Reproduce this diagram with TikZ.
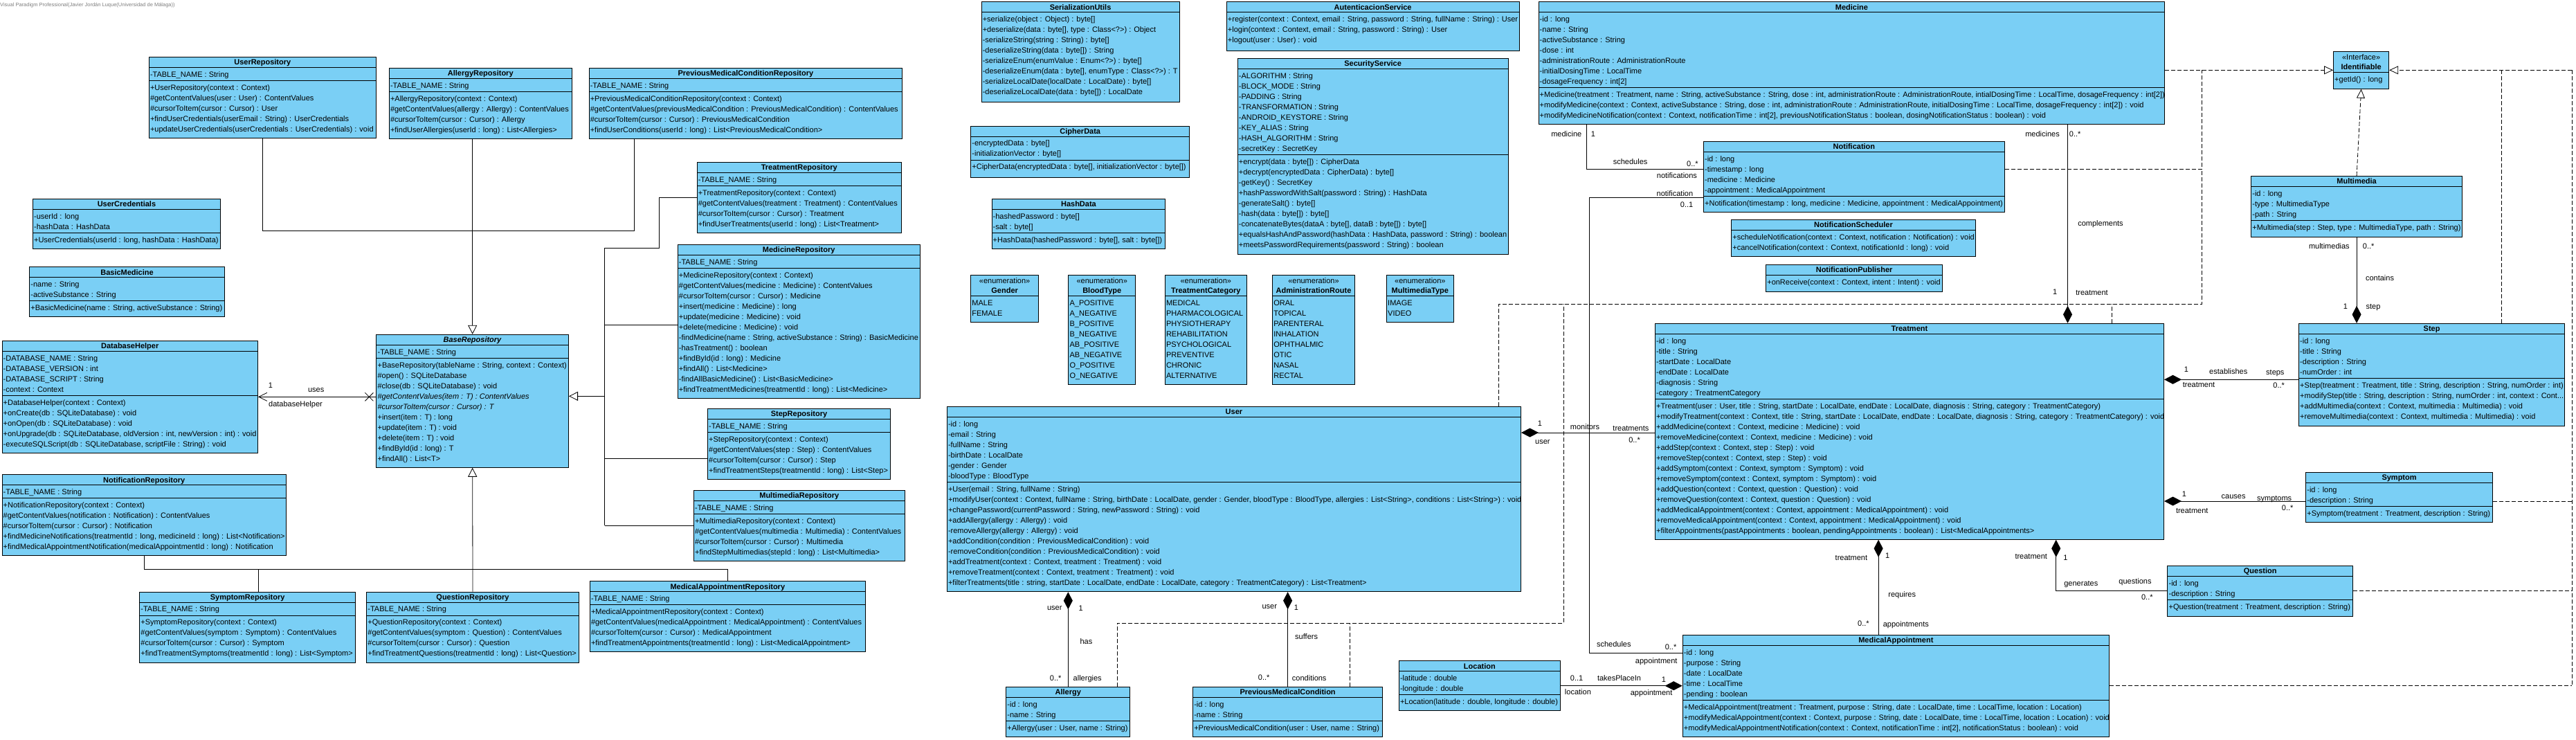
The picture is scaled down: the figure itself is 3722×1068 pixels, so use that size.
\documentclass[tikz,border=0pt]{standalone}
\usepackage{fontspec}
\setmainfont{Liberation Sans}
\usetikzlibrary{arrows.meta,fit}
\definecolor{umlblue}{RGB}{122,207,245}
\tikzset{
  clsbox/.style={draw=black, fill=umlblue, line width=1pt, inner sep=0pt},
  clsline/.style={line width=1pt},
  clstitle/.style={anchor=base, inner sep=0pt, font=\fontsize{11}{15}\selectfont\bfseries},
  clstext/.style={anchor=north west, inner sep=0pt, align=left, font=\fontsize{11}{15}\selectfont},
  lbl/.style={anchor=base, inner sep=0pt, font=\fontsize{11}{15}\selectfont},
  assoc/.style={line width=0.8pt},
  comp/.style={line width=0.8pt, {Diamond[length=25pt,width=13pt]}-},
  gen/.style={line width=0.8pt, -{Triangle[open,length=13pt,width=13pt]}},
  real/.style={line width=0.8pt, dash pattern=on 6pt off 3pt},
  realtri/.style={real, -{Triangle[open,length=13pt,width=12pt]}},
}
\newcommand\ust{\rule{0pt}{10.5pt}}
\newcommand\ubox[7]{%
  \node[clsbox, fit={(#2,#3)(#4,#5)}] (#1) {};
  \draw[clsline] (#2,#6) -- (#4,#6);
  \node[clstitle] (#1-t) at ({(#2+#4)/2},#6-3.5) {#7};}
\newcommand\uster[8]{%
  \node[clsbox, fit={(#2,#3)(#4,#5)}] (#1) {};
  \draw[clsline] (#2,#6) -- (#4,#6);
  \node[lbl] (#1-s) at ({(#2+#4)/2},#3+12) {#7};
  \node[clstitle] (#1-t) at ({(#2+#4)/2},#6-3.5) {#8};}
\newcommand\usep[3]{\draw[clsline] (#1,#3) -- (#2,#3);}
\newcommand\utxt[4]{\node[clstext] (#1) at (#2+1.5,#3+3) {\ust #4};}
\newcommand\ulb[4]{\node[lbl] (#1) at (#2,#3+4) {#4};}
\begin{document}
\begin{tikzpicture}[x=1pt,y=-1pt]
\fill[white] (0,0) rectangle (3722,1068);
\useasboundingbox (0,0) rectangle (3722,1068);
\node[anchor=west, inner sep=0pt, text=gray, font=\fontsize{7.5}{9}\selectfont] (wm) at (0,8) {Visual Paradigm Professional(Javier Jordán Luque(Universidad de Málaga))};

% ---------------- repositories ----------------
\ubox{userrepo}{215.3}{82.3}{543.3}{199.3}{97.3}{UserRepository}
\usep{215.3}{543.3}{116.3}
\utxt{userrepo-a}{215.3}{97.3}{-TABLE\_NAME : String}
\utxt{userrepo-m}{215.3}{116.3}{+UserRepository(context : Context)\\\#getContentValues(user : User) : ContentValues\\\#cursorToItem(cursor : Cursor) : User\\+findUserCredentials(userEmail : String) : UserCredentials\\+updateUserCredentials(userCredentials : UserCredentials) : void}

\ubox{allergyrepo}{562.3}{98.3}{826.2}{200.3}{113.3}{AllergyRepository}
\usep{562.3}{826.2}{132.3}
\utxt{allergyrepo-a}{562.3}{113.3}{-TABLE\_NAME : String}
\utxt{allergyrepo-m}{562.3}{132.3}{+AllergyRepository(context : Context)\\\#getContentValues(allergy : Allergy) : ContentValues\\\#cursorToItem(cursor : Cursor) : Allergy\\+findUserAllergies(userId : long) : List<Allergies>}

\ubox{prevrepo}{851.1}{98.3}{1303.7}{200.3}{113.3}{PreviousMedicalConditionRepository}
\usep{851.1}{1303.7}{132.3}
\utxt{prevrepo-a}{851.1}{113.3}{-TABLE\_NAME : String}
\utxt{prevrepo-m}{851.1}{132.3}{+PreviousMedicalConditionRepository(context : Context)\\\#getContentValues(previousMedicalCondition : PreviousMedicalCondition) : ContentValues\\\#cursorToItem(cursor : Cursor) : PreviousMedicalCondition\\+findUserConditions(userId : long) : List<PreviousMedicalCondition>}

\ubox{treatrepo}{1007.1}{234.3}{1302.5}{336.3}{249.3}{TreatmentRepository}
\usep{1007.1}{1302.5}{268.3}
\utxt{treatrepo-a}{1007.1}{249.3}{-TABLE\_NAME : String}
\utxt{treatrepo-m}{1007.1}{268.3}{+TreatmentRepository(context : Context)\\\#getContentValues(treatment : Treatment) : ContentValues\\\#cursorToItem(cursor : Cursor) : Treatment\\+findUserTreatments(userId : long) : List<Treatment>}

\ubox{medrepo}{979.2}{353.3}{1329.2}{575.3}{368.3}{MedicineRepository}
\usep{979.2}{1329.2}{387.3}
\utxt{medrepo-a}{979.2}{368.3}{-TABLE\_NAME : String}
\utxt{medrepo-m}{979.2}{387.3}{+MedicineRepository(context : Context)\\\#getContentValues(medicine : Medicine) : ContentValues\\\#cursorToItem(cursor : Cursor) : Medicine\\+insert(medicine : Medicine) : long\\+update(medicine : Medicine) : void\\+delete(medicine : Medicine) : void\\-findMedicine(name : String, activeSubstance : String) : BasicMedicine\\-hasTreatment() : boolean\\+findById(id : long) : Medicine\\+findAll() : List<Medicine>\\-findAllBasicMedicine() : List<BasicMedicine>\\+findTreatmentMedicines(treatmentId : long) : List<Medicine>}

\ubox{steprepo}{1022.5}{590.3}{1286.5}{692.3}{605.3}{StepRepository}
\usep{1022.5}{1286.5}{624.3}
\utxt{steprepo-a}{1022.5}{605.3}{-TABLE\_NAME : String}
\utxt{steprepo-m}{1022.5}{624.3}{+StepRepository(context : Context)\\\#getContentValues(step : Step) : ContentValues\\\#cursorToItem(cursor : Cursor) : Step\\+findTreatmentSteps(treatmentId : long) : List<Step>}

\ubox{mmrepo}{1002.4}{708.3}{1307.2}{810.3}{723.3}{MultimediaRepository}
\usep{1002.4}{1307.2}{742.3}
\utxt{mmrepo-a}{1002.4}{723.3}{-TABLE\_NAME : String}
\utxt{mmrepo-m}{1002.4}{742.3}{+MultimediaRepository(context : Context)\\\#getContentValues(multimedia : Multimedia) : ContentValues\\\#cursorToItem(cursor : Cursor) : Multimedia\\+findStepMultimedias(stepId : long) : List<Multimedia>}

\ubox{mapprepo}{852.3}{839.7}{1250.3}{941.7}{854.7}{MedicalAppointmentRepository}
\usep{852.3}{1250.3}{873.7}
\utxt{mapprepo-a}{852.3}{854.7}{-TABLE\_NAME : String}
\utxt{mapprepo-m}{852.3}{873.7}{+MedicalAppointmentRepository(context : Context)\\\#getContentValues(medicalAppointment : MedicalAppointment) : ContentValues\\\#cursorToItem(cursor : Cursor) : MedicalAppointment\\+findTreatmentAppointments(treatmentId : long) : List<MedicalAppointment>}

\ubox{symrepo}{201.7}{855}{513.6}{957}{870}{SymptomRepository}
\usep{201.7}{513.6}{889}
\utxt{symrepo-a}{201.7}{870}{-TABLE\_NAME : String}
\utxt{symrepo-m}{201.7}{889}{+SymptomRepository(context : Context)\\\#getContentValues(symptom : Symptom) : ContentValues\\\#cursorToItem(cursor : Cursor) : Symptom\\+findTreatmentSymptoms(treatmentId : long) : List<Symptom>}

\ubox{qrepo}{529.7}{855}{836.3}{957}{870}{QuestionRepository}
\usep{529.7}{836.3}{889}
\utxt{qrepo-a}{529.7}{870}{-TABLE\_NAME : String}
\utxt{qrepo-m}{529.7}{889}{+QuestionRepository(context : Context)\\\#getContentValues(symptom : Question) : ContentValues\\\#cursorToItem(cursor : Cursor) : Question\\+findTreatmentQuestions(treatmentId : long) : List<Question>}

\ubox{notifrepo}{3}{685.7}{413.4}{802.7}{700.7}{NotificationRepository}
\usep{3}{413.4}{719.7}
\utxt{notifrepo-a}{3}{700.7}{-TABLE\_NAME : String}
\utxt{notifrepo-m}{3}{719.7}{+NotificationRepository(context : Context)\\\#getContentValues(notification : Notification) : ContentValues\\\#cursorToItem(cursor : Cursor) : Notification\\+findMedicineNotifications(treatmentId : long, medicineId : long) : List<Notification>\\+findMedicalAppointmentNotification(medicalAppointmentId : long) : Notification}

\ubox{baserepo}{543.9}{483.3}{821.5}{675.3}{498.3}{\textit{BaseRepository}}
\usep{543.9}{821.5}{517.3}
\utxt{baserepo-a}{543.9}{498.3}{-TABLE\_NAME : String}
\utxt{baserepo-m}{543.9}{517.3}{+BaseRepository(tableName : String, context : Context)\\\#open() : SQLiteDatabase\\\#close(db : SQLiteDatabase) : void\\\textit{\#getContentValues(item : T) : ContentValues}\\\textit{\#cursorToItem(cursor : Cursor) : T}\\+insert(item : T) : long\\+update(item : T) : void\\+delete(item : T) : void\\+findById(id : long) : T\\+findAll() : List<T>}

\ubox{dbhelper}{3}{492.3}{372.5}{654.3}{507.3}{DatabaseHelper}
\usep{3}{372.5}{571.3}
\utxt{dbhelper-a}{3}{507.3}{-DATABASE\_NAME : String\\-DATABASE\_VERSION : int\\-DATABASE\_SCRIPT : String\\-context : Context}
\utxt{dbhelper-m}{3}{571.3}{+DatabaseHelper(context : Context)\\+onCreate(db : SQLiteDatabase) : void\\+onOpen(db : SQLiteDatabase) : void\\+onUpgrade(db : SQLiteDatabase, oldVersion : int, newVersion : int) : void\\-executeSQLScript(db : SQLiteDatabase, scriptFile : String) : void}

\ubox{usercred}{47.4}{287.3}{318.5}{359.3}{302.3}{UserCredentials}
\usep{47.4}{318.5}{336.3}
\utxt{usercred-a}{47.4}{302.3}{-userId : long\\-hashData : HashData}
\utxt{usercred-m}{47.4}{336.3}{+UserCredentials(userId : long, hashData : HashData)}

\ubox{basicmed}{42.7}{385.7}{324.4}{457.7}{400.7}{BasicMedicine}
\usep{42.7}{324.4}{434.7}
\utxt{basicmed-a}{42.7}{400.7}{-name : String\\-activeSubstance : String}
\utxt{basicmed-m}{42.7}{434.7}{+BasicMedicine(name : String, activeSubstance : String)}

% ---------------- utilities / services ----------------
\ubox{serial}{1418.1}{2.7}{1704}{147}{17.7}{SerializationUtils}
\utxt{serial-m}{1418.1}{17.7}{+serialize(object : Object) : byte[]\\+deserialize(data : byte[], type : Class<?>) : Object\\-serializeString(string : String) : byte[]\\-deserializeString(data : byte[]) : String\\-serializeEnum(enumValue : Enum<?>) : byte[]\\-deserializeEnum(data : byte[], enumType : Class<?>) : T\\-serializeLocalDate(localDate : LocalDate) : byte[]\\-deserializeLocalDate(data : byte[]) : LocalDate}

\ubox{cipher}{1402.7}{182}{1718.8}{256}{197}{CipherData}
\usep{1402.7}{1718.8}{231}
\utxt{cipher-a}{1402.7}{197}{-encryptedData : byte[]\\-initializationVector : byte[]}
\utxt{cipher-m}{1402.7}{231}{+CipherData(encryptedData : byte[], initializationVector : byte[])}

\ubox{hashdata}{1433}{287.3}{1683.9}{359.3}{302.3}{HashData}
\usep{1433}{1683.9}{336.3}
\utxt{hashdata-a}{1433}{302.3}{-hashedPassword : byte[]\\-salt : byte[]}
\utxt{hashdata-m}{1433}{336.3}{+HashData(hashedPassword : byte[], salt : byte[])}

\ubox{auth}{1772.2}{2.7}{2195.1}{73.3}{17.7}{AutenticacionService}
\utxt{auth-m}{1772.2}{17.7}{+register(context : Context, email : String, password : String, fullName : String) : User\\+login(context : Context, email : String, password : String) : User\\+logout(user : User) : void}

\ubox{security}{1788.2}{84.3}{2179.1}{367.7}{99.3}{SecurityService}
\usep{1788.2}{2179.1}{223.3}
\utxt{security-a}{1788.2}{99.3}{-ALGORITHM : String\\-BLOCK\_MODE : String\\-PADDING : String\\-TRANSFORMATION : String\\-ANDROID\_KEYSTORE : String\\-KEY\_ALIAS : String\\-HASH\_ALGORITHM : String\\-secretKey : SecretKey}
\utxt{security-m}{1788.2}{223.3}{+encrypt(data : byte[]) : CipherData\\+decrypt(encryptedData : CipherData) : byte[]\\-getKey() : SecretKey\\+hashPasswordWithSalt(password : String) : HashData\\-generateSalt() : byte[]\\-hash(data : byte[]) : byte[]\\-concatenateBytes(dataA : byte[], dataB : byte[]) : byte[]\\+equalsHashAndPassword(hashData : HashData, password : String) : boolean\\+meetsPasswordRequirements(password : String) : boolean}

% ---------------- enumerations ----------------
\uster{gender}{1402.7}{397.3}{1500.6}{465.3}{427.3}{<<enumeration>>}{Gender}
\utxt{gender-a}{1402.7}{427.3}{MALE\\FEMALE}
\uster{blood}{1543.9}{397.3}{1640.6}{555.3}{427.3}{<<enumeration>>}{BloodType}
\utxt{blood-a}{1543.9}{427.3}{A\_POSITIVE\\A\_NEGATIVE\\B\_POSITIVE\\B\_NEGATIVE\\AB\_POSITIVE\\AB\_NEGATIVE\\O\_POSITIVE\\O\_NEGATIVE}
\uster{tcat}{1683.3}{397.3}{1801.3}{555.3}{427.3}{<<enumeration>>}{TreatmentCategory}
\utxt{tcat-a}{1683.3}{427.3}{MEDICAL\\PHARMACOLOGICAL\\PHYSIOTHERAPY\\REHABILITATION\\PSYCHOLOGICAL\\PREVENTIVE\\CHRONIC\\ALTERNATIVE}
\uster{aroute}{1838.6}{397.3}{1957.3}{555.3}{427.3}{<<enumeration>>}{AdministrationRoute}
\utxt{aroute-a}{1838.6}{427.3}{ORAL\\TOPICAL\\PARENTERAL\\INHALATION\\OPHTHALMIC\\OTIC\\NASAL\\RECTAL}
\uster{mmtype}{2003.5}{397.3}{2100.2}{465.3}{427.3}{<<enumeration>>}{MultimediaType}
\utxt{mmtype-a}{2003.5}{427.3}{IMAGE\\VIDEO}

% ---------------- domain ----------------
\ubox{medicine}{2223}{2.7}{3127.7}{179.7}{17.7}{Medicine}
\usep{2223}{3127.7}{126.7}
\utxt{medicine-a}{2223}{17.7}{-id : long\\-name : String\\-activeSubstance : String\\-dose : int\\-administrationRoute : AdministrationRoute\\-initialDosingTime : LocalTime\\-dosageFrequency : int[2]}
\utxt{medicine-m}{2223}{126.7}{+Medicine(treatment : Treatment, name : String, activeSubstance : String, dose : int, administrationRoute : AdministrationRoute, intialDosingTime : LocalTime, dosageFrequency : int[2])\\+modifyMedicine(context : Context, activeSubstance : String, dose : int, administrationRoute : AdministrationRoute, initialDosingTime : LocalTime, dosageFrequency : int[2]) : void\\+modifyMedicineNotification(context : Context, notificationTime : int[2], previousNotificationStatus : boolean, dosingNotificationStatus : boolean) : void}

\ubox{notification}{2461.4}{204.3}{2896.4}{306.3}{219.3}{Notification}
\usep{2461.4}{2896.4}{283.3}
\utxt{notification-a}{2461.4}{219.3}{-id : long\\-timestamp : long\\-medicine : Medicine\\-appointment : MedicalAppointment}
\utxt{notification-m}{2461.4}{283.3}{+Notification(timestamp : long, medicine : Medicine, appointment : MedicalAppointment)}

\ubox{nsched}{2501.7}{317.3}{2854.2}{370.3}{332.3}{NotificationScheduler}
\utxt{nsched-m}{2501.7}{332.3}{+scheduleNotification(context : Context, notification : Notification) : void\\+cancelNotification(context : Context, notificationId : long) : void}

\ubox{npub}{2551.6}{382.3}{2806.6}{421.3}{397.3}{NotificationPublisher}
\utxt{npub-m}{2551.6}{397.3}{+onReceive(context : Context, intent : Intent) : void}

\uster{identifiable}{3371.5}{74.3}{3451.7}{128.3}{104.3}{<<Interface>>}{Identifiable}
\utxt{identifiable-m}{3371.5}{104.3}{+getId() : long}

\ubox{multimedia}{3252.6}{254.3}{3557.5}{342.3}{269.3}{Multimedia}
\usep{3252.6}{3557.5}{318.3}
\utxt{multimedia-a}{3252.6}{269.3}{-id : long\\-type : MultimediaType\\-path : String}
\utxt{multimedia-m}{3252.6}{318.3}{+Multimedia(step : Step, type : MultimediaType, path : String)}

\ubox{step}{3321.5}{467.3}{3705.6}{615.3}{482.3}{Step}
\usep{3321.5}{3705.6}{546.3}
\utxt{step-a}{3321.5}{482.3}{-id : long\\-title : String\\-description : String\\-numOrder : int}
\utxt{step-m}{3321.5}{546.3}{+Step(treatment : Treatment, title : String, description : String, numOrder : int)\\+modifyStep(title : String, description : String, numOrder : int, context : Cont...\\+addMultimedia(context : Context, multimedia : Multimedia) : void\\+removeMultimedia(context : Context, multimedia : Multimedia) : void}

\ubox{symptom}{3331.6}{682.3}{3601.5}{754.3}{697.3}{Symptom}
\usep{3331.6}{3601.5}{731.3}
\utxt{symptom-a}{3331.6}{697.3}{-id : long\\-description : String}
\utxt{symptom-m}{3331.6}{731.3}{+Symptom(treatment : Treatment, description : String)}

\ubox{question}{3131.9}{817.3}{3399.4}{890.3}{832.3}{Question}
\usep{3131.9}{3399.4}{866.3}
\utxt{question-a}{3131.9}{832.3}{-id : long\\-description : String}
\utxt{question-m}{3131.9}{866.3}{+Question(treatment : Treatment, description : String)}

\ubox{mappt}{2431.2}{917.3}{3047.5}{1064.3}{932.3}{MedicalAppointment}
\usep{2431.2}{3047.5}{1011.3}
\utxt{mappt-a}{2431.2}{932.3}{-id : long\\-purpose : String\\-date : LocalDate\\-time : LocalTime\\-pending : boolean}
\utxt{mappt-m}{2431.2}{1011.3}{+MedicalAppointment(treatment : Treatment, purpose : String, date : LocalDate, time : LocalTime, location : Location)\\+modifyMedicalAppointment(context : Context, purpose : String, date : LocalDate, time : LocalTime, location : Location) : void\\+modifyMedicalAppointmentNotification(context : Context, notificationTime : int[2], notificationStatus : boolean) : void}

\ubox{location}{2021.3}{954.7}{2254.4}{1026.7}{969.7}{Location}
\usep{2021.3}{2254.4}{1003.7}
\utxt{location-a}{2021.3}{969.7}{-latitude : double\\-longitude : double}
\utxt{location-m}{2021.3}{1003.7}{+Location(latitude : double, longitude : double)}

\ubox{allergy}{1453.7}{992.3}{1632.9}{1064.3}{1007.3}{Allergy}
\usep{1453.7}{1632.9}{1041.3}
\utxt{allergy-a}{1453.7}{1007.3}{-id : long\\-name : String}
\utxt{allergy-m}{1453.7}{1041.3}{+Allergy(user : User, name : String)}

\ubox{prevcond}{1723.6}{992.3}{1997.6}{1064.3}{1007.3}{PreviousMedicalCondition}
\usep{1723.6}{1997.6}{1041.3}
\utxt{prevcond-a}{1723.6}{1007.3}{-id : long\\-name : String}
\utxt{prevcond-m}{1723.6}{1041.3}{+PreviousMedicalCondition(user : User, name : String)}

\ubox{user}{1368.3}{587.3}{2197.5}{854.7}{602.3}{User}
\usep{1368.3}{2197.5}{696.7}
\utxt{user-a}{1368.3}{602.3}{-id : long\\-email : String\\-fullName : String\\-birthDate : LocalDate\\-gender : Gender\\-bloodType : BloodType}
\utxt{user-m}{1368.3}{696.7}{+User(email : String, fullName : String)\\+modifyUser(context : Context, fullName : String, birthDate : LocalDate, gender : Gender, bloodType : BloodType, allergies : List<String>, conditions : List<String>) : void\\+changePassword(currentPassword : String, newPassword : String) : void\\+addAllergy(allergy : Allergy) : void\\-removeAllergy(allergy : Allergy) : void\\+addCondition(condition : PreviousMedicalCondition) : void\\-removeCondition(condition : PreviousMedicalCondition) : void\\+addTreatment(context : Context, treatment : Treatment) : void\\+removeTreatment(context : Context, treatment : Treatment) : void\\+filterTreatments(title : string, startDate : LocalDate, endDate : LocalDate, category : TreatmentCategory) : List<Treatment>}

\ubox{treatment}{2391.4}{467.3}{3126.5}{779.3}{482.3}{Treatment}
\usep{2391.4}{3126.5}{576.3}
\utxt{treatment-a}{2391.4}{482.3}{-id : long\\-title : String\\-startDate : LocalDate\\-endDate : LocalDate\\-diagnosis : String\\-category : TreatmentCategory}
\utxt{treatment-m}{2391.4}{576.3}{+Treatment(user : User, title : String, startDate : LocalDate, endDate : LocalDate, diagnosis : String, category : TreatmentCategory)\\+modifyTreatment(context : Context, title : String, startDate : LocalDate, endDate : LocalDate, diagnosis : String, category : TreatmentCategory) : void\\+addMedicine(context : Context, medicine : Medicine) : void\\+removeMedicine(context : Context, medicine : Medicine) : void\\+addStep(context : Context, step : Step) : void\\+removeStep(context : Context, step : Step) : void\\+addSymptom(context : Context, symptom : Symptom) : void\\+removeSymptom(context : Context, symptom : Symptom) : void\\+addQuestion(context : Context, question : Question) : void\\+removeQuestion(context : Context, question : Question) : void\\+addMedicalAppointment(context : Context, appointment : MedicalAppointment) : void\\+removeMedicalAppointment(context : Context, appointment : MedicalAppointment) : void\\+filterAppointments(pastAppointments : boolean, pendingAppointments : boolean) : List<MedicalAppointments>}

% ---------------- generalizations of repositories ----------------
\coordinate (jt) at (682.7,333);
\draw[gen] (allergyrepo.south -| baserepo.north) -- (baserepo.north);
\draw[assoc] (userrepo.south) |- (jt);
\draw[assoc] (916.4,0 |- prevrepo.south) |- (jt);

\coordinate (jr) at (873.7,572.3);
\draw[gen] (jr) -- (baserepo.east |- jr);
\draw[assoc] (873.7,358.3) -- (873.7,0 |- mmrepo.west);
\draw[assoc] (873.7,358.3) -- (952,358.3) -- (952,0 |- treatrepo.west) -- (treatrepo.west);
\draw[assoc] (873.7,469.3) -- (medrepo.west |- 0,469.3);
\draw[assoc] (873.7,662) -- (steprepo.west |- 0,662);
\draw[assoc] (873.7,0 |- mmrepo.west) -- (mmrepo.west);

\draw[gen] (qrepo.north) -- (baserepo.south);
\draw[assoc] (notifrepo.south) |- (mapprepo.north |- 0,822.3) -- (mapprepo.north);
\draw[assoc] (373.7,0 |- symrepo.north) -- (373.7,822.3);

% uses
\coordinate (ux) at (baserepo.west |- dbhelper.east);
\draw[assoc, -{Straight Barb[length=12pt,width=12pt]}] (ux) -- (dbhelper.east);
\draw[assoc] ([shift={(-16,-6)}]ux) -- ([shift={(-4,6)}]ux);
\draw[assoc] ([shift={(-16,6)}]ux) -- ([shift={(-4,-6)}]ux);
\ulb{l-db1}{390.9}{556}{1}
\ulb{l-db2}{456.7}{562.3}{uses}
\ulb{l-db3}{427}{583.7}{databaseHelper}

% ---------------- associations ----------------
\draw[assoc] (2292.4,0 |- medicine.south) |- (notification.west |- 0,244.3);
\ulb{l-mn1}{2263.3}{193.7}{medicine}
\ulb{l-mn2}{2301.9}{193.3}{1}
\ulb{l-mn3}{2355.6}{233.3}{schedules}
\ulb{l-mn4}{2445.4}{236.7}{0..*}
\ulb{l-mn5}{2422.9}{253.3}{notifications}

\draw[assoc] (notification.west |- 0,285) -| (2296,943) -- (mappt.west |- 0,943);
\ulb{l-na1}{2419.9}{279.3}{notification}
\ulb{l-na2}{2437.1}{295}{0..1}
\ulb{l-na3}{2331.8}{930.3}{schedules}
\ulb{l-na4}{2414}{934.7}{0..*}
\ulb{l-na5}{2393.2}{954.7}{appointment}

\draw[comp] (2987.5,0 |- treatment.north) -- (2987.5,0 |- medicine.south);
\ulb{l-mt1}{2951}{193.3}{medicines}
\ulb{l-mt2}{2998.2}{193.3}{0..*}
\ulb{l-mt3}{3035}{322.3}{complements}
\ulb{l-mt4}{2969.1}{421.7}{1}
\ulb{l-mt5}{3022.5}{422.3}{treatment}

\draw[comp] (user.east |- 0,625) -- (treatment.west |- 0,625);
\ulb{l-ut1}{2224.8}{611}{1}
\ulb{l-ut2}{2228.9}{637.7}{user}
\ulb{l-ut3}{2290}{616.7}{monitors}
\ulb{l-ut4}{2356.4}{618.3}{treatments}
\ulb{l-ut5}{2361.5}{635}{0..*}

\draw[comp] (user.south -| allergy.north) -- (allergy.north);
\ulb{l-ua1}{1523.7}{877.3}{user}
\ulb{l-ua2}{1561.7}{878}{1}
\ulb{l-ua3}{1569.4}{926.3}{has}
\ulb{l-ua4}{1525.2}{979}{0..*}
\ulb{l-ua5}{1571.2}{979.7}{allergies}

\draw[comp] (user.south -| prevcond.north) -- (prevcond.north);
\ulb{l-uc1}{1834.2}{875.7}{user}
\ulb{l-uc2}{1873}{877.3}{1}
\ulb{l-uc3}{1887.6}{919.7}{suffers}
\ulb{l-uc4}{1826.2}{978}{0..*}
\ulb{l-uc5}{1891.7}{979.7}{conditions}

\draw[comp] (2714.1,0 |- treatment.south) -- (2714.1,0 |- mappt.north);
\ulb{l-tm1}{2674.9}{805.3}{treatment}
\ulb{l-tm2}{2727.1}{802.3}{1}
\ulb{l-tm3}{2748.2}{858.3}{requires}
\ulb{l-tm4}{2692.4}{900.3}{0..*}
\ulb{l-tm5}{2753.8}{901.3}{appointments}

\draw[comp] (2970.7,0 |- treatment.south) |- (question.west);
\ulb{l-tq1}{2934.7}{803.7}{treatment}
\ulb{l-tq2}{2984.5}{805.3}{1}
\ulb{l-tq3}{3006.8}{842.3}{generates}
\ulb{l-tq4}{3085}{839.7}{questions}
\ulb{l-tq5}{3102.3}{862}{0..*}

\draw[comp] (treatment.east |- 0,548.3) -- (step.west |- 0,548.3);
\ulb{l-ts1}{3158.9}{533.3}{1}
\ulb{l-ts2}{3219.7}{536.7}{establishes}
\ulb{l-ts3}{3287.3}{537.7}{steps}
\ulb{l-ts4}{3177}{555.3}{treatment}
\ulb{l-ts5}{3292.7}{556.7}{0..*}

\draw[comp] (treatment.east |- 0,724) -- (symptom.west |- 0,724);
\ulb{l-ty1}{3156}{713}{1}
\ulb{l-ty2}{3227.1}{716.3}{causes}
\ulb{l-ty3}{3286.1}{719.7}{symptoms}
\ulb{l-ty4}{3167.2}{737.3}{treatment}
\ulb{l-ty5}{3305.1}{733}{0..*}

\draw[comp] (step.north -| multimedia.south) -- (multimedia.south);
\ulb{l-sm1}{3365.3}{355.7}{multimedias}
\ulb{l-sm2}{3422.2}{355.7}{0..*}
\ulb{l-sm3}{3438.5}{401.7}{contains}
\ulb{l-sm4}{3389}{442.3}{1}
\ulb{l-sm5}{3429}{442.3}{step}

\draw[comp] (mappt.west |- location.east) -- (location.east);
\ulb{l-al1}{2278.1}{979.7}{0..1}
\ulb{l-al2}{2339.5}{979.7}{takesPlaceIn}
\ulb{l-al3}{2403.9}{981.3}{1}
\ulb{l-al4}{2279.9}{999.7}{location}
\ulb{l-al5}{2386.1}{1000.7}{appointment}

% ---------------- realizations of Identifiable ----------------
\draw[realtri] (medicine.east |- identifiable.west) -- (identifiable.west);
\draw[real] (notification.east |- 0,244.3) -| (3181.4,0 |- identifiable.west);
\draw[real] (2165.5,0 |- user.north) |- (3181.4,439.3) -- (3181.4,244.3);
\draw[real] (3051,0 |- treatment.north) -- (3051,439.3);
\draw[real] (1613.9,0 |- allergy.north) |- (2259.2,900.3) -- (2259.2,439.3);
\draw[real] (1950.7,0 |- prevcond.north) -- (1950.7,900.3);
\draw[realtri] (multimedia.north) -- (identifiable.south);
\draw[realtri] (3716,0 |- identifiable.east) -- (identifiable.east);
\draw[real] (3614.4,0 |- step.north) -- (3614.4,0 |- identifiable.east);
\draw[real] (3716,0 |- identifiable.east) -- (3716,0 |- mappt.east);
\draw[real] (symptom.east |- 0,724) -- (3716,724);
\draw[real] (question.east) -- (3716,0 |- question.east);
\draw[real] (mappt.east) -- (3716,0 |- mappt.east);
\end{tikzpicture}
\end{document}
